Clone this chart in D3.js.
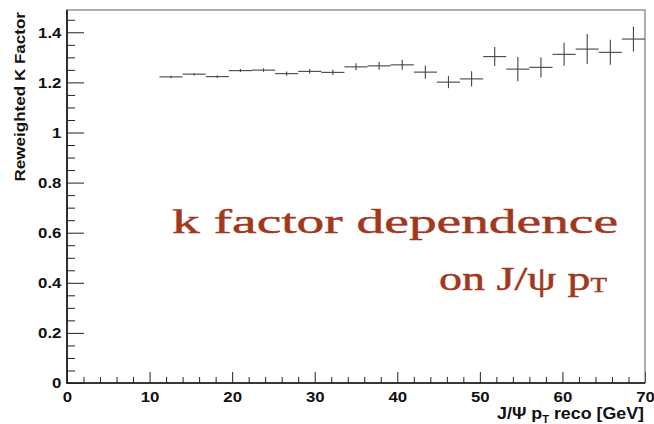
<!DOCTYPE html>
<html>
<head>
<meta charset="utf-8">
<script src="https://cdn.jsdelivr.net/npm/d3@7"></script>
<style>
  body { margin: 0; background: #fff; }
  svg { display: block; }
  .tick text { font-family: 'Liberation Sans', Arial, sans-serif; font-weight: bold; font-size: 15px; fill: #111; }
  .domain { display: none; }
</style>
</head>
<body>
<svg width="654" height="424"></svg>
<script>
// bin edges of the J/psi pT histogram (GeV)
const binEdges = [11.2, 14.0, 16.8, 19.6, 22.4, 25.2, 28.0, 30.8, 33.6, 36.4, 39.2,
  42.0, 44.8, 47.6, 50.4, 53.2, 56.0, 58.8, 61.6, 64.4, 67.2, 70.0];
const kFactor = [1.222, 1.233, 1.223, 1.247, 1.249, 1.235, 1.244, 1.240, 1.262, 1.266, 1.270,
  1.241, 1.201, 1.214, 1.303, 1.253, 1.260, 1.312, 1.333, 1.320, 1.373];
const kError = [0.005, 0.005, 0.005, 0.006, 0.007, 0.008, 0.009, 0.010, 0.014, 0.016, 0.020,
  0.026, 0.024, 0.030, 0.038, 0.048, 0.040, 0.046, 0.060, 0.050, 0.050];
const yMajor = [0, 0.2, 0.4, 0.6, 0.8, 1, 1.2, 1.4];
const xMajor = [0, 10, 20, 30, 40, 50, 60, 70];

const svg = d3.select('svg');
const mLeft = 67, mRight = 645, mTop = 10, mBottom = 383;
const stretch = 1.12; // the reference glyphs are a little wide

const x = d3.scaleLinear().domain([0, 70]).range([mLeft, mRight]);
const y = d3.scaleLinear().domain([0, 1.489]).range([mBottom, mTop]);

const bins = kFactor.map((v, i) => ({ lo: binEdges[i], hi: binEdges[i + 1], v: v, e: kError[i] }));

// minor ticks
const yMinor = d3.range(0, 1.46, 0.05).filter(v => Math.abs(v / 0.2 - Math.round(v / 0.2)) > 0.01);
const xMinor = d3.range(0, 70.1, 2).filter(v => v % 10 !== 0);

svg.append('g')
  .attr('transform', `translate(${mLeft},0)`)
  .call(d3.axisLeft(y).tickValues(yMinor).tickSize(-8).tickFormat(''));
svg.append('g')
  .attr('transform', `translate(${mLeft},0)`)
  .call(d3.axisLeft(y).tickValues(yMajor).tickSize(-17).tickPadding(5).tickFormat(d3.format('')));

svg.append('g')
  .attr('transform', `translate(0,${mBottom})`)
  .call(d3.axisBottom(x).tickValues(xMinor).tickSize(-6).tickFormat(''));
svg.append('g')
  .attr('transform', `translate(0,${mBottom})`)
  .call(d3.axisBottom(x).tickValues(xMajor).tickSize(-11).tickPadding(8));

svg.selectAll('.tick line').attr('stroke', '#222');
svg.selectAll('.tick text').attr('transform', `scale(${stretch},1)`);

// frame
svg.append('rect')
  .attr('x', mLeft).attr('y', mTop)
  .attr('width', mRight - mLeft).attr('height', mBottom - mTop)
  .attr('fill', 'none').attr('stroke', '#777').attr('stroke-width', 1.2);
svg.append('path')
  .attr('d', `M${mLeft},${mTop}V${mBottom}H${mRight}`)
  .attr('fill', 'none').attr('stroke', '#111').attr('stroke-width', 1.6);

// histogram points with errors
const pts = svg.append('g').attr('stroke', '#444').attr('stroke-width', 1.1);
pts.selectAll('line.h').data(bins).join('line').attr('class', 'h')
  .attr('x1', d => x(d.lo)).attr('x2', d => x(d.hi))
  .attr('y1', d => y(d.v)).attr('y2', d => y(d.v));
pts.selectAll('line.v').data(bins).join('line').attr('class', 'v')
  .attr('x1', d => x((d.lo + d.hi) / 2)).attr('x2', d => x((d.lo + d.hi) / 2))
  .attr('y1', d => y(d.v - d.e)).attr('y2', d => y(d.v + d.e));

// stretch a text horizontally so that it spans the given width, ending at (xEnd, base)
function fitText(sel, xEnd, base, width) {
  const w = sel.node().getBBox().width;
  sel.attr('transform', `translate(${xEnd},${base}) scale(${width / w},1)`);
}

// axis titles
const axFont = "'Liberation Sans', Arial, sans-serif";
const xt = svg.append('text')
  .attr('text-anchor', 'end')
  .style('font-family', axFont).style('font-weight', 'bold').style('font-size', '16px')
  .attr('fill', '#111');
xt.append('tspan').text('J/\u03A8 p');
xt.append('tspan').attr('dy', 4).style('font-size', '10px').text('T');
xt.append('tspan').attr('dy', -4).text(' reco [GeV]');
fitText(xt, 644, 418.5, 147);

const yt = svg.append('text')
  .attr('text-anchor', 'end')
  .style('font-family', axFont).style('font-weight', 'bold').style('font-size', '14.5px')
  .attr('fill', '#111')
  .text('Reweighted K Factor');
{
  const w = yt.node().getBBox().width;
  yt.attr('transform', `translate(24.5,12) rotate(-90) scale(${170 / w},1)`);
}

// annotation
const noteFont = "'Liberation Serif', 'DejaVu Serif', serif";
const noteColor = '#a2381b';
const n1 = svg.append('text')
  .attr('text-anchor', 'end')
  .style('font-family', noteFont).style('font-size', '34px')
  .attr('fill', noteColor).attr('stroke', noteColor).attr('stroke-width', 0.45)
  .text('k factor dependence');
fitText(n1, 618, 233, 446);

const n2 = svg.append('text')
  .attr('text-anchor', 'end')
  .style('font-family', noteFont).style('font-size', '34px')
  .attr('fill', noteColor).attr('stroke', noteColor).attr('stroke-width', 0.45);
n2.append('tspan').text('on J/\u03C8 p');
n2.append('tspan').attr('dy', 2).style('font-size', '20px').text('T');
fitText(n2, 607, 290, 168);
</script>
</body>
</html>
